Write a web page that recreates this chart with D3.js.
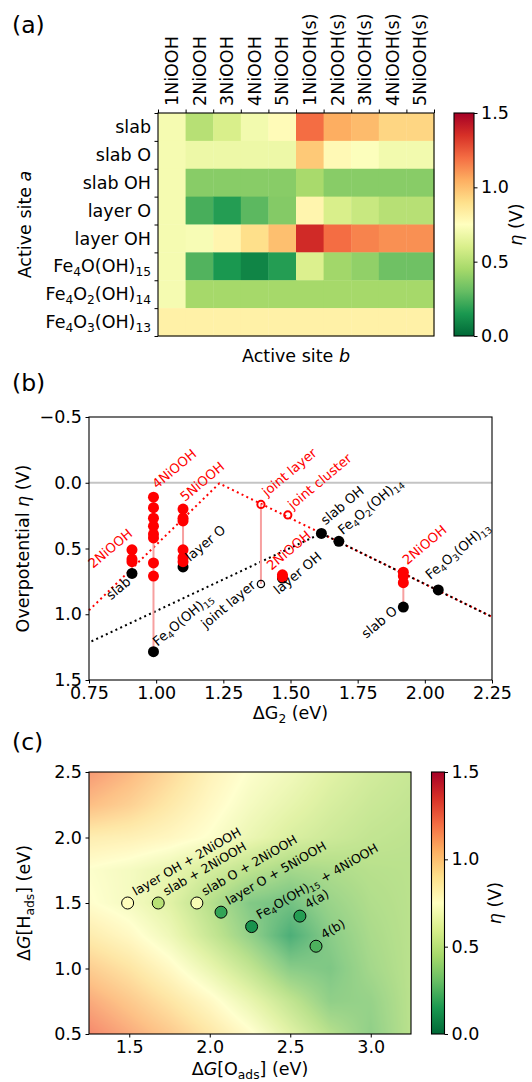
<!DOCTYPE html>
<html lang="en">
<head>
<meta charset="utf-8">
<title>Overpotential maps</title>
<script src="https://d3js.org/d3.v7.min.js"></script>
<style>
  body { margin: 0; background: #fff; }
  svg { display: block; font-family: "DejaVu Sans", sans-serif; }
</style>
</head>
<body>
<div id="chart"></div>
<script>
// ---------- panel (a): heatmap ----------
const sitesA = ["slab", "slab O", "slab OH", "layer O", "layer OH",
  "Fe_{4}O(OH)_{15}", "Fe_{4}O_{2}(OH)_{14}", "Fe_{4}O_{3}(OH)_{13}"];
const sitesB = ["1NiOOH", "2NiOOH", "3NiOOH", "4NiOOH", "5NiOOH",
  "1NiOOH(s)", "2NiOOH(s)", "3NiOOH(s)", "4NiOOH(s)", "5NiOOH(s)"];
const etaSlab    = [0.71, 0.50, 0.60, 0.70, 0.77, 1.20, 1.05, 1.01, 0.93, 0.93];
const etaSlabO   = [0.71, 0.68, 0.68, 0.68, 0.68, 0.97, 0.78, 0.74, 0.70, 0.70];
const etaSlabOH  = [0.71, 0.38, 0.38, 0.38, 0.38, 0.46, 0.38, 0.38, 0.38, 0.38];
const etaLayerO  = [0.71, 0.24, 0.17, 0.28, 0.37, 0.80, 0.60, 0.55, 0.50, 0.50];
const etaLayerOH = [0.71, 0.72, 0.80, 0.90, 1.00, 1.37, 1.20, 1.15, 1.12, 1.12];
const etaFe4O    = [0.71, 0.26, 0.15, 0.09, 0.17, 0.61, 0.44, 0.40, 0.32, 0.32];
const etaFe4O2   = [0.71, 0.45, 0.45, 0.45, 0.45, 0.45, 0.45, 0.45, 0.45, 0.45];
const etaFe4O3   = [0.82, 0.82, 0.82, 0.82, 0.82, 0.82, 0.82, 0.82, 0.82, 0.82];
const heatRows = [etaSlab, etaSlabO, etaSlabOH, etaLayerO, etaLayerOH, etaFe4O, etaFe4O2, etaFe4O3];
const cbarTicks = [0, 0.5, 1.0, 1.5];

// ---------- panel (b): overpotential vs dG2 ----------
const siteNames = ["slab", "slab O", "slab OH", "layer O", "layer OH",
  "Fe_{4}O(OH)_{15}", "Fe_{4}O_{2}(OH)_{14}", "Fe_{4}O_{3}(OH)_{13}"];
const siteDG2 = [0.91, 1.92, 1.615, 1.10, 1.47, 0.99, 1.68, 2.05];
const siteEta = [0.69, 0.945, 0.385, 0.64, 0.725, 1.285, 0.445, 0.815];

const niLabels = ["2NiOOH", "4NiOOH", "5NiOOH", "2NiOOH", "2NiOOH"];
const niSite   = ["slab", "Fe_{4}O(OH)_{15}", "layer O", "layer OH", "slab O"];
const niEta = [
  [0.51, 0.58, 0.60],
  [0.11, 0.19, 0.27, 0.33, 0.39, 0.42, 0.61, 0.71],
  [0.20, 0.27, 0.29, 0.51, 0.57, 0.60],
  [0.70, 0.715],
  [0.68, 0.71, 0.76]
];

const jointNames = ["joint layer", "joint cluster"];
const jointDG2 = [1.39, 1.49];
const jointEta = [0.165, 0.245];
const jointLayerO = [1.39, 0.77];   // black open marker under "joint layer"

const blackLineDG2 = [0.75, 1.615, 2.25];
const blackLineEta = [1.215, 0.385, 1.02];
const redLineDG2 = [0.75, 1.235, 2.25];
const redLineEta = [0.97, 0.005, 1.02];

const xTicksB = [0.75, 1.0, 1.25, 1.5, 1.75, 2.0, 2.25];
const yTicksB = [-0.5, 0, 0.5, 1.0, 1.5];

// ---------- panel (c): dG[O] / dG[H] map ----------
const bgX = [1.25, 1.5, 1.75, 2.0, 2.25, 2.5, 2.75, 3.0, 3.25];
const bgY = [0.5, 0.75, 1.0, 1.25, 1.5, 1.75, 2.0, 2.25, 2.5];
const bgEta = [ // one row per bgY value, bottom to top
  [1.22, 1.12, 1.02, 0.90, 0.77, 0.60, 0.44, 0.32, 0.45],
  [1.12, 1.02, 0.91, 0.79, 0.64, 0.48, 0.32, 0.34, 0.45],
  [1.00, 0.91, 0.79, 0.64, 0.48, 0.30, 0.27, 0.38, 0.45],
  [0.87, 0.79, 0.67, 0.50, 0.33, 0.14, 0.30, 0.40, 0.45],
  [0.76, 0.70, 0.60, 0.44, 0.28, 0.24, 0.35, 0.42, 0.45],
  [0.74, 0.70, 0.64, 0.55, 0.46, 0.38, 0.41, 0.44, 0.45],
  [0.86, 0.84, 0.80, 0.74, 0.65, 0.57, 0.52, 0.48, 0.46],
  [1.06, 0.99, 0.89, 0.79, 0.70, 0.63, 0.56, 0.51, 0.48],
  [1.17, 1.08, 0.96, 0.83, 0.74, 0.68, 0.60, 0.54, 0.50]
];
const comboNames = ["layer OH + 2NiOOH", "slab + 2NiOOH", "slab O + 2NiOOH",
  "layer O + 5NiOOH", "Fe_{4}O(OH)_{15} + 4NiOOH", "4(a)", "4(b)"];
const comboO = [1.49, 1.68, 1.92, 2.07, 2.26, 2.56, 2.66];
const comboH = [1.50, 1.50, 1.50, 1.43, 1.32, 1.40, 1.17];
const comboEta = [0.76, 0.50, 0.72, 0.20, 0.13, 0.17, 0.25];
const xTicksC = [1.5, 2.0, 2.5, 3.0];
const yTicksC = [0.5, 1.0, 1.5, 2.0, 2.5];

// ---------- setup ----------
const W = 532, H = 1082, FS = 17.5;
const svg = d3.select("#chart").append("svg").attr("width", W).attr("height", H);

// RdYlGn reversed, 0 .. 1.5 V, piecewise linear like matplotlib
const etaColor = d3.scaleLinear()
  .domain(d3.range(11).map(i => 1.5 - 0.15 * i))
  .range(d3.schemeRdYlGn[11])
  .clamp(true);

// text with _{sub} and *italic* parts
function rich(sel, str, fs) {
  const parts = str.split(/(_\{[^}]*\}|\*[^*]*\*)/).filter(s => s.length);
  let down = false;
  parts.forEach(p => {
    const ts = sel.append("tspan");
    if (p.startsWith("_{")) {
      ts.text(p.slice(2, -1)).attr("font-size", fs * 0.7).attr("dy", fs * 0.22);
      down = true;
    } else {
      const it = p.startsWith("*");
      ts.text(it ? p.slice(1, -1) : p);
      if (it) ts.attr("font-style", "italic");
      if (down) { ts.attr("dy", -fs * 0.22); down = false; }
    }
  });
  return sel;
}

function styleAxis(g, fs) {
  g.select(".domain").remove();
  g.selectAll(".tick line").attr("stroke", "#000").attr("stroke-width", 1);
  g.selectAll(".tick text").attr("font-size", fs).attr("fill", "#000")
    .attr("font-family", "DejaVu Sans, sans-serif");
}

function frame(b) {
  svg.append("rect").attr("x", b.l).attr("y", b.t)
    .attr("width", b.r - b.l).attr("height", b.b - b.t)
    .attr("fill", "none").attr("stroke", "#000").attr("stroke-width", 1.1);
}

function colorbar(id, b, labelX) {
  const grad = svg.append("defs").append("linearGradient").attr("id", id)
    .attr("x1", 0).attr("y1", 1).attr("x2", 0).attr("y2", 0);
  d3.range(11).forEach(i => grad.append("stop")
    .attr("offset", i / 10).attr("stop-color", etaColor(i * 0.15)));
  svg.append("rect").attr("x", b.l).attr("y", b.t)
    .attr("width", b.r - b.l).attr("height", b.b - b.t)
    .attr("fill", `url(#${id})`);
  const cy = d3.scaleLinear().domain([0, 1.5]).range([b.b, b.t]);
  svg.append("g").attr("transform", `translate(${b.r},0)`)
    .call(d3.axisRight(cy).tickValues(cbarTicks).tickFormat(d3.format(".1f"))
      .tickSize(3.5).tickPadding(3.5))
    .call(g => styleAxis(g, FS));
  frame(b);
  rich(svg.append("text")
    .attr("transform", `translate(${labelX},${(b.t + b.b) / 2}) rotate(-90)`)
    .attr("text-anchor", "middle").attr("font-size", FS), "*η* (V)", FS);
}

function panelTag(t, y) {
  svg.append("text").attr("x", 12).attr("y", y).attr("font-size", 23.5).text(t);
}

// ---------- (a) ----------
const A = {l: 158, r: 434, t: 113, b: 336};
const xa = d3.scaleBand().domain(sitesB).range([A.l, A.r]);
const ya = d3.scaleBand().domain(sitesA).range([A.t, A.b]);
const cells = heatRows.flatMap((row, i) => row.map((v, j) => ({a: sitesA[i], b: sitesB[j], v})));
svg.append("g").selectAll("rect").data(cells).join("rect")
  .attr("x", d => xa(d.b)).attr("y", d => ya(d.a))
  .attr("width", xa.bandwidth() + 0.4).attr("height", ya.bandwidth() + 0.4)
  .attr("fill", d => etaColor(d.v));
frame(A);

const xaIdx = d3.scaleLinear().domain([0, sitesB.length]).range([A.l, A.r]);
const yaIdx = d3.scaleLinear().domain([0, sitesA.length]).range([A.t, A.b]);
svg.append("g").attr("transform", `translate(0,${A.t})`)
  .call(d3.axisTop(xaIdx).tickValues(d3.range(sitesB.length + 1)).tickFormat("").tickSize(3.5))
  .call(g => styleAxis(g, FS));
svg.append("g").attr("transform", `translate(${A.l},0)`)
  .call(d3.axisLeft(yaIdx).tickValues(d3.range(sitesA.length + 1)).tickFormat("").tickSize(3.5))
  .call(g => styleAxis(g, FS));

svg.append("g").selectAll("text").data(sitesB).join("text")
  .attr("transform", d => `translate(${xa(d) + xa.bandwidth() / 2},${A.t - 7}) rotate(-90)`)
  .attr("dy", "0.35em").attr("font-size", FS).text(d => d);
sitesA.forEach(s => {
  rich(svg.append("text").attr("x", A.l - 7).attr("y", ya(s) + ya.bandwidth() / 2)
    .attr("dy", "0.35em").attr("text-anchor", "end").attr("font-size", FS), s, FS);
});
rich(svg.append("text").attr("transform", `translate(31,${(A.t + A.b) / 2}) rotate(-90)`)
  .attr("text-anchor", "middle").attr("font-size", FS), "Active site *a*", FS);
rich(svg.append("text").attr("x", (A.l + A.r) / 2).attr("y", 362)
  .attr("text-anchor", "middle").attr("font-size", FS), "Active site *b*", FS);
colorbar("cbA", {l: 454, r: 474, t: A.t, b: A.b}, 522);
panelTag("(a)", 33);

// ---------- (b) ----------
const B = {l: 89, r: 492, t: 417, b: 680};
const xb = d3.scaleLinear().domain([0.75, 2.25]).range([B.l, B.r]);
const yb = d3.scaleLinear().domain([-0.5, 1.5]).range([B.t, B.b]);
const LFS = 13.2, ROT = -40;

svg.append("line").attr("x1", B.l).attr("x2", B.r).attr("y1", yb(0)).attr("y2", yb(0))
  .attr("stroke", "#c4c4c4").attr("stroke-width", 2);

const lineB = d3.line().x(d => xb(d[0])).y(d => yb(d[1]));
svg.append("path").datum(d3.zip(redLineDG2, redLineEta)).attr("d", lineB)
  .attr("fill", "none").attr("stroke", "#ff0000").attr("stroke-width", 2).attr("stroke-dasharray", "2,3.3");
svg.append("path").datum(d3.zip(blackLineDG2, blackLineEta)).attr("d", lineB)
  .attr("fill", "none").attr("stroke", "#000").attr("stroke-width", 2).attr("stroke-dasharray", "2,3.3")
  .attr("stroke-dashoffset", 2.6);

// stems from best NiOOH combination down to the bare site
const stems = niSite.map((s, i) => {
  const k = siteNames.indexOf(s);
  return {x: siteDG2[k], y0: d3.min(niEta[i]), y1: siteEta[k]};
});
stems.push({x: jointLayerO[0], y0: jointEta[0], y1: jointLayerO[1]});
svg.append("g").selectAll("line").data(stems).join("line")
  .attr("x1", d => xb(d.x)).attr("x2", d => xb(d.x))
  .attr("y1", d => yb(d.y0)).attr("y2", d => yb(d.y1))
  .attr("stroke", "#f7a0a0").attr("stroke-width", 2);

svg.append("g").selectAll("circle").data(d3.range(siteNames.length)).join("circle")
  .attr("cx", i => xb(siteDG2[i])).attr("cy", i => yb(siteEta[i])).attr("r", 5.5).attr("fill", "#000");
const redPts = niSite.flatMap((s, i) => {
  const k = siteNames.indexOf(s);
  return niEta[i].map(e => [siteDG2[k], e]);
});
svg.append("g").selectAll("circle").data(redPts).join("circle")
  .attr("cx", d => xb(d[0])).attr("cy", d => yb(d[1])).attr("r", 5.5).attr("fill", "#ff0000");
svg.append("g").selectAll("circle").data(d3.range(jointNames.length)).join("circle")
  .attr("cx", i => xb(jointDG2[i])).attr("cy", i => yb(jointEta[i])).attr("r", 3.6)
  .attr("fill", "none").attr("stroke", "#ff0000").attr("stroke-width", 2);
svg.append("circle").attr("cx", xb(jointLayerO[0])).attr("cy", yb(jointLayerO[1])).attr("r", 3.6)
  .attr("fill", "none").attr("stroke", "#000").attr("stroke-width", 1.3);

// label offsets (px) relative to their point
const siteOff = [[-21, 27], [-37, 32], [4, -8], [7, -5], [-4, 17], [4, -5], [4, -6], [-8, -10]];
const niOff = [[-39, 19], [3.5, -8], [2, -7], [-11, -4], [4, -7]];
const jointOff = [[6, -7.5], [5, -5]];
function labelB(x, y, off, txt, color) {
  rich(svg.append("text")
    .attr("transform", `translate(${xb(x) + off[0]},${yb(y) + off[1]}) rotate(${ROT})`)
    .attr("font-size", LFS).attr("fill", color), txt, LFS);
}
siteNames.forEach((s, i) => labelB(siteDG2[i], siteEta[i], siteOff[i], s, "#000"));
niSite.forEach((s, i) => {
  const k = siteNames.indexOf(s);
  labelB(siteDG2[k], d3.min(niEta[i]), niOff[i], niLabels[i], "#ff0000");
});
jointNames.forEach((s, i) => labelB(jointDG2[i], jointEta[i], jointOff[i], s, "#ff0000"));
labelB(jointLayerO[0], jointLayerO[1], [-55, 45], "joint layer", "#000");

frame(B);
svg.append("g").attr("transform", `translate(0,${B.b})`)
  .call(d3.axisBottom(xb).tickValues(xTicksB).tickFormat(d3.format(".2f")).tickSize(3.5).tickPadding(3.5))
  .call(g => styleAxis(g, FS));
svg.append("g").attr("transform", `translate(${B.l},0)`)
  .call(d3.axisLeft(yb).tickValues(yTicksB).tickFormat(d3.format(".1f")).tickSize(3.5).tickPadding(3.5))
  .call(g => styleAxis(g, FS));
rich(svg.append("text").attr("transform", `translate(29,${(B.t + B.b) / 2}) rotate(-90)`)
  .attr("text-anchor", "middle").attr("font-size", FS), "Overpotential *η* (V)", FS);
rich(svg.append("text").attr("x", (B.l + B.r) / 2).attr("y", 719)
  .attr("text-anchor", "middle").attr("font-size", FS), "ΔG_{2} (eV)", FS);
panelTag("(b)", 391);

// ---------- (c) ----------
const C = {l: 89, r: 411, t: 772, b: 1034};
const xc = d3.scaleLinear().domain([1.25, 3.25]).range([C.l, C.r]);
const yc = d3.scaleLinear().domain([0.5, 2.5]).range([C.b, C.t]);
const gxi = d3.scaleLinear().domain([bgX[0], bgX[bgX.length - 1]]).range([0, bgX.length - 1]);
const gyi = d3.scaleLinear().domain([bgY[0], bgY[bgY.length - 1]]).range([0, bgY.length - 1]);
const cw = C.r - C.l, ch = C.b - C.t;
const canvas = document.createElement("canvas");
canvas.width = cw; canvas.height = ch;
const ctx = canvas.getContext("2d");
const img = ctx.createImageData(cw, ch);
for (let j = 0; j < ch; j++) {
  const fy = gyi(yc.invert(C.t + j + 0.5));
  const j0 = Math.max(0, Math.min(bgY.length - 2, Math.floor(fy))), ty = fy - j0;
  for (let i = 0; i < cw; i++) {
    const fx = gxi(xc.invert(C.l + i + 0.5));
    const i0 = Math.max(0, Math.min(bgX.length - 2, Math.floor(fx))), tx = fx - i0;
    const v = (1 - ty) * ((1 - tx) * bgEta[j0][i0] + tx * bgEta[j0][i0 + 1]) +
              ty * ((1 - tx) * bgEta[j0 + 1][i0] + tx * bgEta[j0 + 1][i0 + 1]);
    const c = d3.rgb(etaColor(v));
    const p = (j * cw + i) * 4;
    img.data[p] = c.r; img.data[p + 1] = c.g; img.data[p + 2] = c.b; img.data[p + 3] = 255;
  }
}
ctx.putImageData(img, 0, 0);
svg.append("image").attr("href", canvas.toDataURL()).attr("x", C.l).attr("y", C.t)
  .attr("width", cw).attr("height", ch).attr("preserveAspectRatio", "none").attr("opacity", 0.76);
frame(C);

svg.append("g").selectAll("circle").data(d3.range(comboNames.length)).join("circle")
  .attr("cx", i => xc(comboO[i])).attr("cy", i => yc(comboH[i])).attr("r", 6)
  .attr("fill", i => etaColor(comboEta[i])).attr("stroke", "#000").attr("stroke-width", 1);
comboNames.forEach((s, i) => {
  rich(svg.append("text")
    .attr("transform", `translate(${xc(comboO[i]) + 8},${yc(comboH[i]) - 7}) rotate(-30)`)
    .attr("font-size", 12.5), s, 12.5);
});

svg.append("g").attr("transform", `translate(0,${C.b})`)
  .call(d3.axisBottom(xc).tickValues(xTicksC).tickFormat(d3.format(".1f")).tickSize(3.5).tickPadding(3.5))
  .call(g => styleAxis(g, FS));
svg.append("g").attr("transform", `translate(${C.l},0)`)
  .call(d3.axisLeft(yc).tickValues(yTicksC).tickFormat(d3.format(".1f")).tickSize(3.5).tickPadding(3.5))
  .call(g => styleAxis(g, FS));
rich(svg.append("text").attr("transform", `translate(30,${(C.t + C.b) / 2}) rotate(-90)`)
  .attr("text-anchor", "middle").attr("font-size", FS), "Δ*G*[H_{ads}] (eV)", FS);
rich(svg.append("text").attr("x", (C.l + C.r) / 2).attr("y", 1075)
  .attr("text-anchor", "middle").attr("font-size", FS), "Δ*G*[O_{ads}] (eV)", FS);
colorbar("cbC", {l: 431.5, r: 444.5, t: C.t, b: C.b}, 501);
panelTag("(c)", 750);
</script>
</body>
</html>
